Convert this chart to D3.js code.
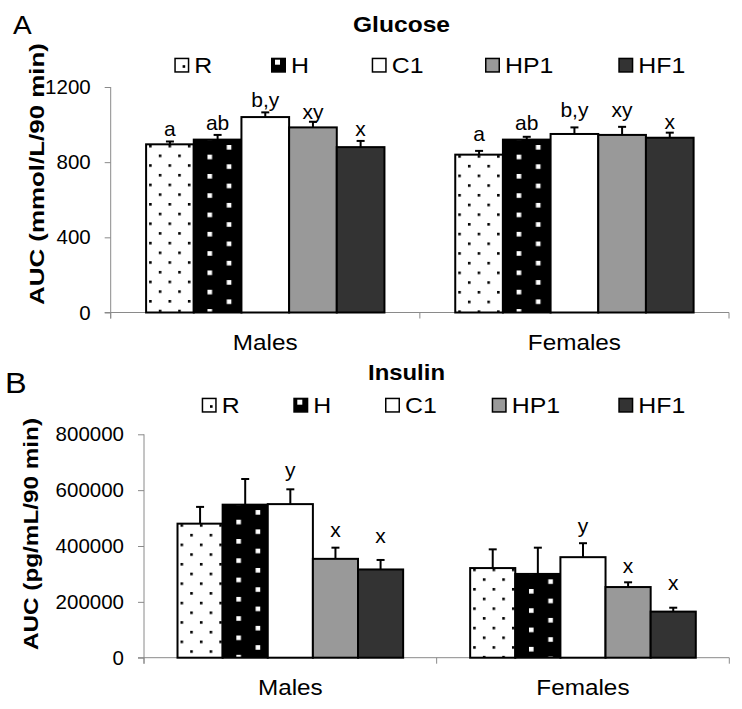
<!DOCTYPE html>
<html><head><meta charset="utf-8">
<script src="https://cdn.jsdelivr.net/npm/d3@7"></script>
<style>
html,body{margin:0;padding:0;background:#fff;}
svg{display:block;font-family:"Liberation Sans",Arial,sans-serif;}
</style></head>
<body><svg id="chart" width="742" height="709"></svg>
<script>
// ---------- DATA ----------
const categories = ["Males", "Females"];
const series = ["R", "H", "C1", "HP1", "HF1"];

const glucoseMales      = [895, 920, 1040, 985, 880];
const glucoseMalesErr   = [15, 25, 25, 30, 33];
const glucoseFemales    = [840, 920, 950, 945, 930];
const glucoseFemalesErr = [20, 15, 35, 43, 27];
const glucoseLettersMales   = ["a", "ab", "b,y", "xy", "x"];
const glucoseLettersFemales = ["a", "ab", "b,y", "xy", "x"];
const glucoseTicks = [0, 400, 800, 1200];

const insulinMales      = [480000, 548000, 550000, 354000, 316000];
const insulinMalesErr   = [60000, 92000, 53000, 40000, 34000];
const insulinFemales    = [321000, 300000, 360000, 253000, 165000];
const insulinFemalesErr = [67000, 94000, 50000, 17000, 14000];
const insulinLettersMales   = ["", "", "y", "x", "x"];
const insulinLettersFemales = ["", "", "y", "x", "x"];
const insulinTicks = [0, 200000, 400000, 600000, 800000];

// ---------- LAYOUT / STYLE ----------
const fills = {R: "#ffffff", H: "#000000", C1: "#ffffff", HP1: "#999999", HF1: "#333333"};
const axisColor = "#8a8a8a";
const svg = d3.select("#chart");
const defs = svg.append("defs");

function stretchText(sel, factor) {
  sel.each(function () {
    const n = this.getComputedTextLength();
    d3.select(this).attr("textLength", n * factor).attr("lengthAdjust", "spacingAndGlyphs");
  });
}

let patId = 0;
function patternFill(name, x, y) {
  if (name === "R") {
    const id = "p" + (patId++);
    const p = defs.append("pattern").attr("id", id).attr("patternUnits", "userSpaceOnUse")
      .attr("x", x + 3).attr("y", y + 0.5).attr("width", 19.4).attr("height", 19.4);
    p.append("rect").attr("width", 19.4).attr("height", 19.4).attr("fill", "#fff");
    p.append("rect").attr("x", 0).attr("y", 0).attr("width", 2.6).attr("height", 2.6).attr("fill", "#000");
    p.append("rect").attr("x", 9.7).attr("y", 9.7).attr("width", 2.6).attr("height", 2.6).attr("fill", "#000");
    return "url(#" + id + ")";
  }
  if (name === "H") {
    const id = "p" + (patId++);
    const p = defs.append("pattern").attr("id", id).attr("patternUnits", "userSpaceOnUse")
      .attr("x", x + 13.7).attr("y", y + 5.4).attr("width", 38.6).attr("height", 19.3);
    p.append("rect").attr("width", 38.6).attr("height", 19.3).attr("fill", "#000");
    p.append("rect").attr("x", 0).attr("y", 9.65).attr("width", 4.6).attr("height", 4.6).attr("fill", "#fff");
    p.append("rect").attr("x", 19.3).attr("y", 0).attr("width", 4.6).attr("height", 4.6).attr("fill", "#fff");
    return "url(#" + id + ")";
  }
  return fills[name];
}

function panel(cfg) {
  const g = svg.append("g");
  const x0 = d3.scaleBand().domain(categories).range([cfg.left, cfg.right]).padding(0);
  const groupW = x0.bandwidth() * 0.771;
  const x1 = d3.scaleBand().domain(series).range([0, groupW]).padding(0);
  const y = d3.scaleLinear().domain([0, cfg.max]).range([cfg.bottom, cfg.top]);

  // y axis
  const yAxis = d3.axisLeft(y).tickValues(cfg.ticks).tickSize(6).tickPadding(14).tickFormat(d3.format("d"));
  const ga = g.append("g").attr("transform", `translate(${cfg.left},0)`).call(yAxis);
  ga.select(".domain").attr("stroke", axisColor).attr("d", `M0,${cfg.top}V${cfg.bottom + 6}`);
  ga.selectAll(".tick line").attr("stroke", axisColor);
  ga.selectAll(".tick text").attr("fill", "#000").style("font-size", cfg.tickFont + "px")
    .style("font-family", '"Liberation Sans",Arial,sans-serif');

  // x axis
  const xAxis = d3.axisBottom(x0).tickValues([]).tickSizeOuter(0);
  const gx = g.append("g").attr("transform", `translate(0,${cfg.bottom})`).call(xAxis);
  gx.select(".domain").attr("stroke", axisColor).attr("d", `M${cfg.left - 6},0H${cfg.right}`);
  const bounds = [x0.range()[0]].concat(categories.map(c => x0(c) + x0.bandwidth()));
  gx.selectAll("line.bt").data(bounds).enter().append("line").attr("class", "bt")
    .attr("x1", d => d).attr("x2", d => d).attr("y1", 0).attr("y2", 6).attr("stroke", axisColor);
  gx.selectAll("text.cat").data(categories).enter().append("text").attr("class", "cat")
    .attr("x", d => x0(d) + x0.bandwidth() / 2).attr("y", cfg.catY - cfg.bottom)
    .attr("text-anchor", "middle").style("font-size", "21.5px").attr("fill", "#000")
    .style("font-family", '"Liberation Sans",Arial,sans-serif')
    .text(d => d).call(stretchText, 1.13);

  // bars
  const groups = categories.map((c, ci) => ({cat: c, vals: cfg.values[ci], errs: cfg.errs[ci], letters: cfg.letters[ci], gaps: cfg.gaps[ci]}));
  groups.forEach(grp => {
    const gx0 = x0(grp.cat) + (x0.bandwidth() - groupW) / 2;
    series.forEach((s, i) => {
      const v = grp.vals[i], e = grp.errs[i];
      const bx = gx0 + x1(s), bw = x1.bandwidth();
      const top = y(v), etop = y(v + e);
      const cx = bx + bw / 2;
      g.append("line").attr("x1", cx).attr("x2", cx).attr("y1", top).attr("y2", etop)
        .attr("stroke", "#000").attr("stroke-width", 2);
      g.append("line").attr("x1", cx - 4).attr("x2", cx + 4).attr("y1", etop).attr("y2", etop)
        .attr("stroke", "#000").attr("stroke-width", 2);
      g.append("rect").attr("x", bx).attr("y", top).attr("width", bw).attr("height", y(0) - top)
        .attr("fill", patternFill(s, bx, top)).attr("stroke", "#000").attr("stroke-width", 2);
      if (grp.letters[i]) {
        g.append("text").attr("x", cx).attr("y", etop - grp.gaps[i]).attr("text-anchor", "middle")
          .style("font-size", "21px").attr("fill", "#000").text(grp.letters[i]);
      }
    });
  });

  // title
  g.append("text").attr("x", cfg.titleX).attr("y", cfg.titleY).attr("text-anchor", "middle")
    .style("font-size", "22px").style("font-weight", "bold").text(cfg.title)
    .attr("textLength", cfg.titleLen).attr("lengthAdjust", "spacingAndGlyphs");
  // panel letter
  g.append("text").attr("x", cfg.letterX).attr("y", cfg.letterY).style("font-size", cfg.letterFont + "px")
    .text(cfg.panelLetter).call(stretchText, 1.12);
  // y axis title
  g.append("text").attr("transform", `translate(${cfg.yTitleX},${cfg.yTitleY}) rotate(-90)`)
    .attr("text-anchor", "middle").style("font-size", "21px").style("font-weight", "bold")
    .text(cfg.yTitle).attr("textLength", cfg.yTitleLen).attr("lengthAdjust", "spacingAndGlyphs");

  // legend
  series.forEach((s, i) => {
    const lx = cfg.legendX[i], ly = cfg.legendY;
    g.append("rect").attr("x", lx + 0.75).attr("y", ly + 0.75).attr("width", 13.5).attr("height", 13.5)
      .attr("fill", fills[s]).attr("stroke", "#000").attr("stroke-width", 1.5);
    if (s === "R") g.append("rect").attr("x", lx + 8.3).attr("y", ly + 7.5).attr("width", 2.6).attr("height", 2.6).attr("fill", "#000");
    if (s === "H") g.append("rect").attr("x", lx + 4).attr("y", ly + 2).attr("width", 5).attr("height", 5).attr("fill", "#fff");
    g.append("text").attr("x", lx + 20).attr("y", ly + 15.2).style("font-size", "22px").text(s).call(stretchText, 1.13);
  });
}

panel({
  left: 110.7, right: 729, top: 87, bottom: 312.5, max: 1200, ticks: glucoseTicks, tickFont: 20.5,
  values: [glucoseMales, glucoseFemales], errs: [glucoseMalesErr, glucoseFemalesErr],
  letters: [glucoseLettersMales, glucoseLettersFemales],
  gaps: [[5, 5, 5.7, 3, 5], [10, 7, 10, 10, 3.7]],
  catY: 350, title: "Glucose", titleX: 401.5, titleY: 31.5, titleLen: 97,
  panelLetter: "A", letterX: 13, letterY: 34, letterFont: 25,
  yTitle: "AUC (mmol/L/90 min)", yTitleX: 43.5, yTitleY: 174, yTitleLen: 262,
  legendX: [174.3, 271, 371.7, 485, 618.3], legendY: 57.7
});

panel({
  left: 144, right: 729.3, top: 434.3, bottom: 657.7, max: 800000, ticks: insulinTicks, tickFont: 20.5,
  values: [insulinMales, insulinFemales], errs: [insulinMalesErr, insulinFemalesErr],
  letters: [insulinLettersMales, insulinLettersFemales],
  gaps: [[0, 0, 12, 11, 17], [0, 0, 10, 9.6, 17.7]],
  catY: 695.5, title: "Insulin", titleX: 406.5, titleY: 380, titleLen: 77,
  panelLetter: "B", letterX: 5, letterY: 393, letterFont: 29,
  yTitle: "AUC (pg/mL/90 min)", yTitleX: 37.5, yTitleY: 534, yTitleLen: 232,
  legendX: [201.7, 293.3, 385, 491.7, 618.3], legendY: 397.7
});
</script>
</body></html>
